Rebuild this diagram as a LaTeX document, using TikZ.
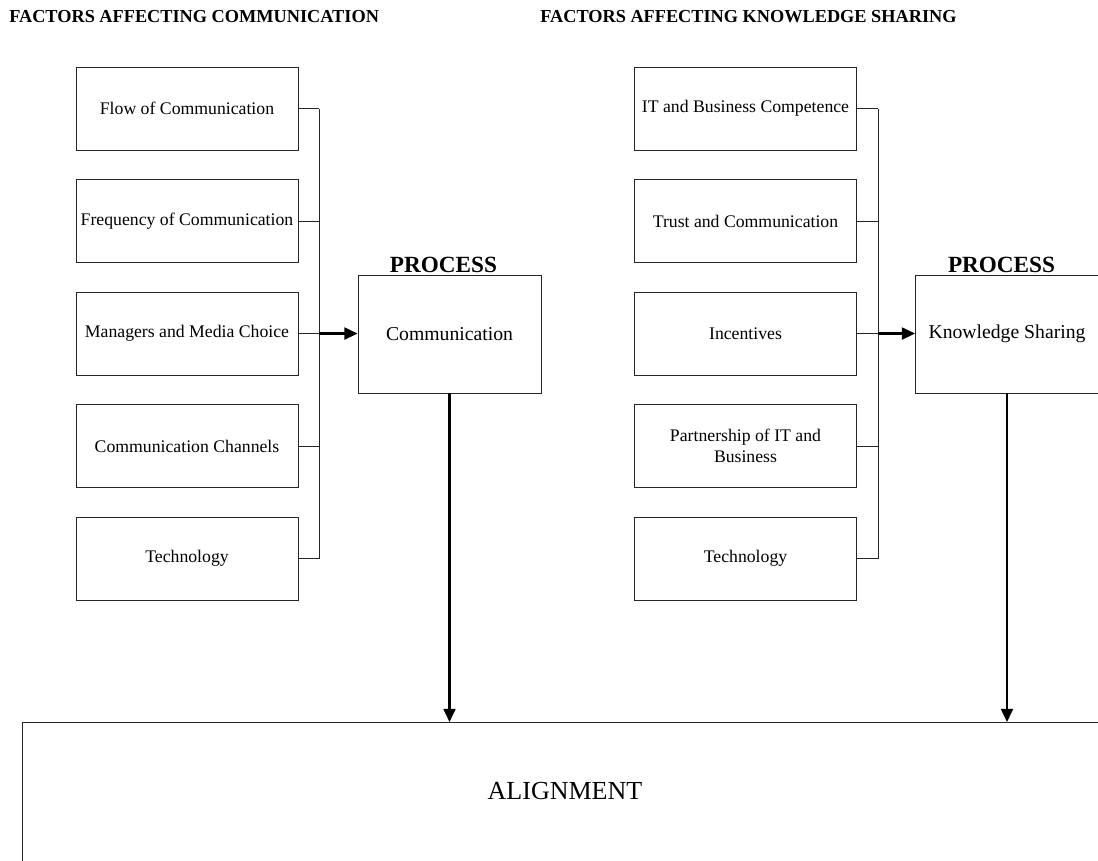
\documentclass[tikz,border=0pt]{standalone}
\usepackage{fontspec}
\setmainfont{Liberation Serif}
\usetikzlibrary{positioning,arrows.meta}

\begin{document}
\begin{tikzpicture}[x=0.025cm, y=-0.025cm, node distance=0.716cm,
  factor/.style={draw=black!85, line width=0.6pt, minimum width=5.55cm, minimum height=2.075cm, align=center, inner sep=2pt, font=\fontsize{12.6}{15}\selectfont},
  proc/.style={draw=black!85, line width=0.6pt, minimum width=4.575cm, minimum height=2.95cm, font=\fontsize{14}{17}\selectfont},
  heading/.style={anchor=base west, inner sep=0pt, font=\bfseries\fontsize{13}{15}\selectfont},
  proctitle/.style={anchor=base, inner sep=0pt, font=\bfseries\fontsize{16.5}{19}\selectfont},
  link/.style={draw=black!85, line width=0.6pt},
  flow/.style={line width=1.6pt, -{Triangle[length=0.33cm, width=0.3cm]}}]
\useasboundingbox (0,0) rectangle (1098,861);

% headings
\node[heading] (commhead) at (9,23) {FACTORS AFFECTING COMMUNICATION};
\node[heading] (knowhead) at (540,23) {FACTORS AFFECTING KNOWLEDGE SHARING};

% communication factors
\node[factor] (c1) at (187,108.5) {Flow of Communication};
\node[factor, below=of c1] (c2) {Frequency of Communication};
\node[factor, below=of c2] (c3) {Managers and Media Choice};
\node[factor, below=of c3] (c4) {Communication Channels};
\node[factor, below=of c4] (c5) {Technology};

% knowledge sharing factors
\node[factor] (k1) at (745.5,108.5) {IT and Business Competence};
\node[factor, below=of k1] (k2) {Trust and Communication};
\node[factor, below=of k2] (k3) {Incentives};
\node[factor, below=of k3] (k4) {Partnership of IT and\\Business};
\node[factor, below=of k4] (k5) {Technology};

% processes
\node[proc] (comm) at (449.5,334) {Communication};
\node[proctitle] (commtitle) at (443.5,272) {PROCESS};
\node[proc] (know) at (1007,334) {Knowledge Sharing};
\node[proctitle] (knowtitle) at (1001.5,272) {PROCESS};

% alignment
\node[draw=black!85, line width=0.6pt, anchor=north west, minimum width=27.7cm, minimum height=4cm] (align) at (22,722) {};
\node[anchor=base, font=\fontsize{18.5}{22}\selectfont] (aligntext) at (565,799) {ALIGNMENT};

% brackets
\coordinate (cbar) at (319,0);
\coordinate (kbar) at (878,0);
\foreach \i in {1,...,5} {
  \draw[link] (c\i.east) -- (c\i.east -| cbar);
  \draw[link] (k\i.east) -- (k\i.east -| kbar);
}
\draw[link] (c1.east -| cbar) -- (c5.east -| cbar);
\draw[link] (k1.east -| kbar) -- (k5.east -| kbar);

\draw[flow] (c3.east -| cbar) -- (c3.east -| comm.west);
\draw[flow] (k3.east -| kbar) -- (k3.east -| know.west);
\draw[flow] (comm.south) -- (comm.south |- align.north);
\draw[flow] (know.south) -- (know.south |- align.north);
\end{tikzpicture}
\end{document}
